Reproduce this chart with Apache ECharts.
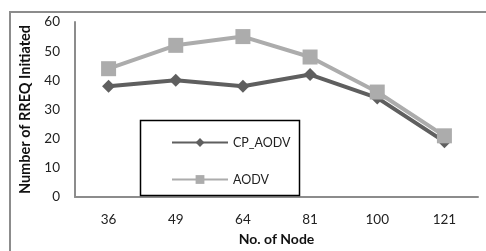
<!DOCTYPE html>
<html><head><meta charset="utf-8">
<script src="https://cdn.jsdelivr.net/npm/echarts@6/dist/echarts.min.js"></script>
<style>html,body{margin:0;padding:0;background:#fff}#c{width:486px;height:251px}</style>
</head><body><div id="c"></div>
<script>
const categories = ['36', '49', '64', '81', '100', '121'];
const cpAodv = [38, 40, 38, 42, 34, 19];
const aodv = [44, 52, 55, 48, 36, 21];
const seriesNames = ['CP_AODV', 'AODV'];
const yTitle = 'Number of RREQ Initiated';
const xTitle = 'No. of Node';

const FONT = 'Lato, "Open Sans", sans-serif';
const chart = echarts.init(document.getElementById('c'), null, {renderer: 'canvas'});
chart.setOption({
  animation: false,
  backgroundColor: '#fff',
  grid: {left: 75, right: 8, top: 22, bottom: 47},
  graphic: [
    {type: 'rect', shape: {x: 10, y: 12, width: 490, height: 260}, style: {fill: 'none', stroke: '#8c8c8c', lineWidth: 2}, z: -1},
    {type: 'rect', shape: {x: 140.5, y: 120.5, width: 159, height: 75}, style: {fill: '#fff', stroke: '#000', lineWidth: 1.5}, z: 5}
  ],
  legend: {
    orient: 'vertical', left: 166, top: 131, itemWidth: 56, itemHeight: 11, itemGap: 24,
    textStyle: {fontFamily: FONT, fontSize: 12.5, color: '#222'},
    data: seriesNames, z: 10
  },
  xAxis: {
    type: 'category', data: categories, boundaryGap: true,
    axisLine: {lineStyle: {color: '#8c8c8c', width: 2}}, axisTick: {show: false},
    axisLabel: {fontFamily: FONT, fontSize: 13.5, color: '#222', margin: 16},
    name: xTitle, nameLocation: 'middle', nameGap: 32,
    nameTextStyle: {fontFamily: FONT, fontSize: 14, fontWeight: 'bold', color: '#111'}
  },
  yAxis: {
    type: 'value', min: 0, max: 60, interval: 10,
    axisLine: {show: true, lineStyle: {color: '#8c8c8c', width: 2}}, axisTick: {show: false},
    splitLine: {show: false},
    axisLabel: {fontFamily: FONT, fontSize: 13.5, color: '#222', margin: 15},
    name: yTitle, nameLocation: 'middle', nameGap: 42,
    nameTextStyle: {fontFamily: FONT, fontSize: 14.5, fontWeight: 'bold', color: '#111'}
  },
  series: [
    {name: seriesNames[0], type: 'line', data: cpAodv, symbol: 'diamond', symbolSize: 13,
     lineStyle: {color: '#5f5f5f', width: 4}, itemStyle: {color: '#5f5f5f'}, z: 2},
    {name: seriesNames[1], type: 'line', data: aodv, symbol: 'rect', symbolSize: 15,
     lineStyle: {color: '#acacac', width: 4}, itemStyle: {color: '#acacac'}, z: 3}
  ]
});
</script></body></html>
